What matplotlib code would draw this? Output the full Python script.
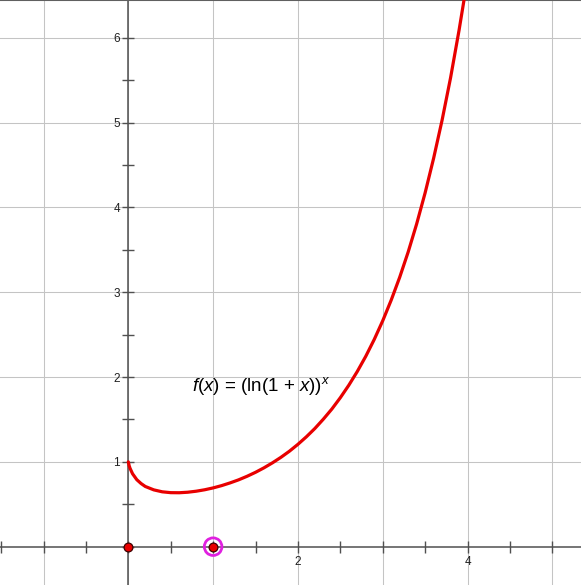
import matplotlib
matplotlib.use('Agg')
import matplotlib.pyplot as plt
from matplotlib.ticker import MultipleLocator, FuncFormatter

plt.rcParams['font.family'] = ['Liberation Sans', 'DejaVu Sans']
plt.rcParams['mathtext.fontset'] = 'custom'
plt.rcParams['mathtext.rm'] = 'Liberation Sans'
plt.rcParams['mathtext.it'] = 'Liberation Sans:italic'

xs = [0.0, 0.01, 0.02, 0.05, 0.1, 0.15, 0.2, 0.3, 0.4, 0.5, 0.6, 0.7, 0.8, 0.9,
      1.0, 1.1, 1.2, 1.3, 1.4, 1.5, 1.6, 1.7, 1.8, 1.9,
      2.0, 2.1, 2.2, 2.3, 2.4, 2.5, 2.6, 2.7, 2.8, 2.9,
      3.0, 3.1, 3.2, 3.3, 3.4, 3.5, 3.6, 3.7, 3.8, 3.9, 4.0]
ys = [1.0, 0.955, 0.925, 0.86, 0.79, 0.745, 0.71, 0.67, 0.647, 0.637, 0.636, 0.642, 0.654, 0.671,
      0.693, 0.720, 0.752, 0.788, 0.830, 0.877, 0.930, 0.989, 1.054, 1.126,
      1.207, 1.296, 1.394, 1.504, 1.623, 1.757, 1.904, 2.066, 2.245, 2.444,
      2.664, 2.908, 3.177, 3.475, 3.806, 4.173, 4.58, 5.03, 5.53, 6.09, 6.70]

pts_x = [0, 1]
pts_y = [0, 0]
xlabels = [2, 4]
ylabels = [1, 2, 3, 4, 5, 6]
grid_x = [-1, 0, 1, 2, 3, 4, 5]
grid_y = [1, 2, 3, 4, 5, 6]

fig = plt.figure(figsize=(5.81, 5.85), dpi=100)
ax = fig.add_axes([0, 0, 1, 1])
ax.set_xlim(-1.513, 5.338)
ax.set_ylim(-0.452, 6.447)

# grid
for g in grid_x:
    ax.axvline(g, color='#c4c4c4', lw=0.75, zorder=0)
for g in grid_y:
    ax.axhline(g, color='#c4c4c4', lw=0.75, zorder=0)

# axes through origin
ax.spines['right'].set_visible(False)
ax.spines['top'].set_color('#606060')
ax.spines['top'].set_linewidth(1.5)
ax.spines['left'].set_position(('data', 0))
ax.spines['bottom'].set_position(('data', 0))
ax.spines['left'].set_color('#505050')
ax.spines['bottom'].set_color('#505050')
ax.spines['left'].set_linewidth(1.1)
ax.spines['bottom'].set_linewidth(1.1)

ax.xaxis.set_major_locator(MultipleLocator(0.5))
ax.yaxis.set_major_locator(MultipleLocator(0.5))
ax.xaxis.set_major_formatter(FuncFormatter(lambda v, p: f'{v:g}' if round(v, 3) in xlabels else ''))
ax.yaxis.set_major_formatter(FuncFormatter(lambda v, p: f'{v:g}' if round(v, 3) in ylabels else ''))
ax.tick_params(direction='inout', length=9, width=1.0, color='#505050', labelsize=8.5,
               labelcolor='#202020', pad=1.5)
ax.tick_params(axis='x', pad=2)

ax.plot(xs, ys, color='#e80000', lw=2.3, solid_capstyle='round', zorder=3)

ax.scatter(pts_x[1:], pts_y[1:], s=160, facecolor='none', edgecolor='#e020e0', lw=2.0, zorder=4)
ax.scatter(pts_x, pts_y, s=40, color='#e80000', edgecolor='#400000', lw=0.9, zorder=5)

ax.text(0.755, 1.90, r'$\mathit{f}(\mathit{x})$ = (ln(1 + $\mathit{x}$))$^{\mathit{x}}$',
        fontsize=13.5, va='center', ha='left', color='black')

fig.savefig('out.png', dpi=100)
